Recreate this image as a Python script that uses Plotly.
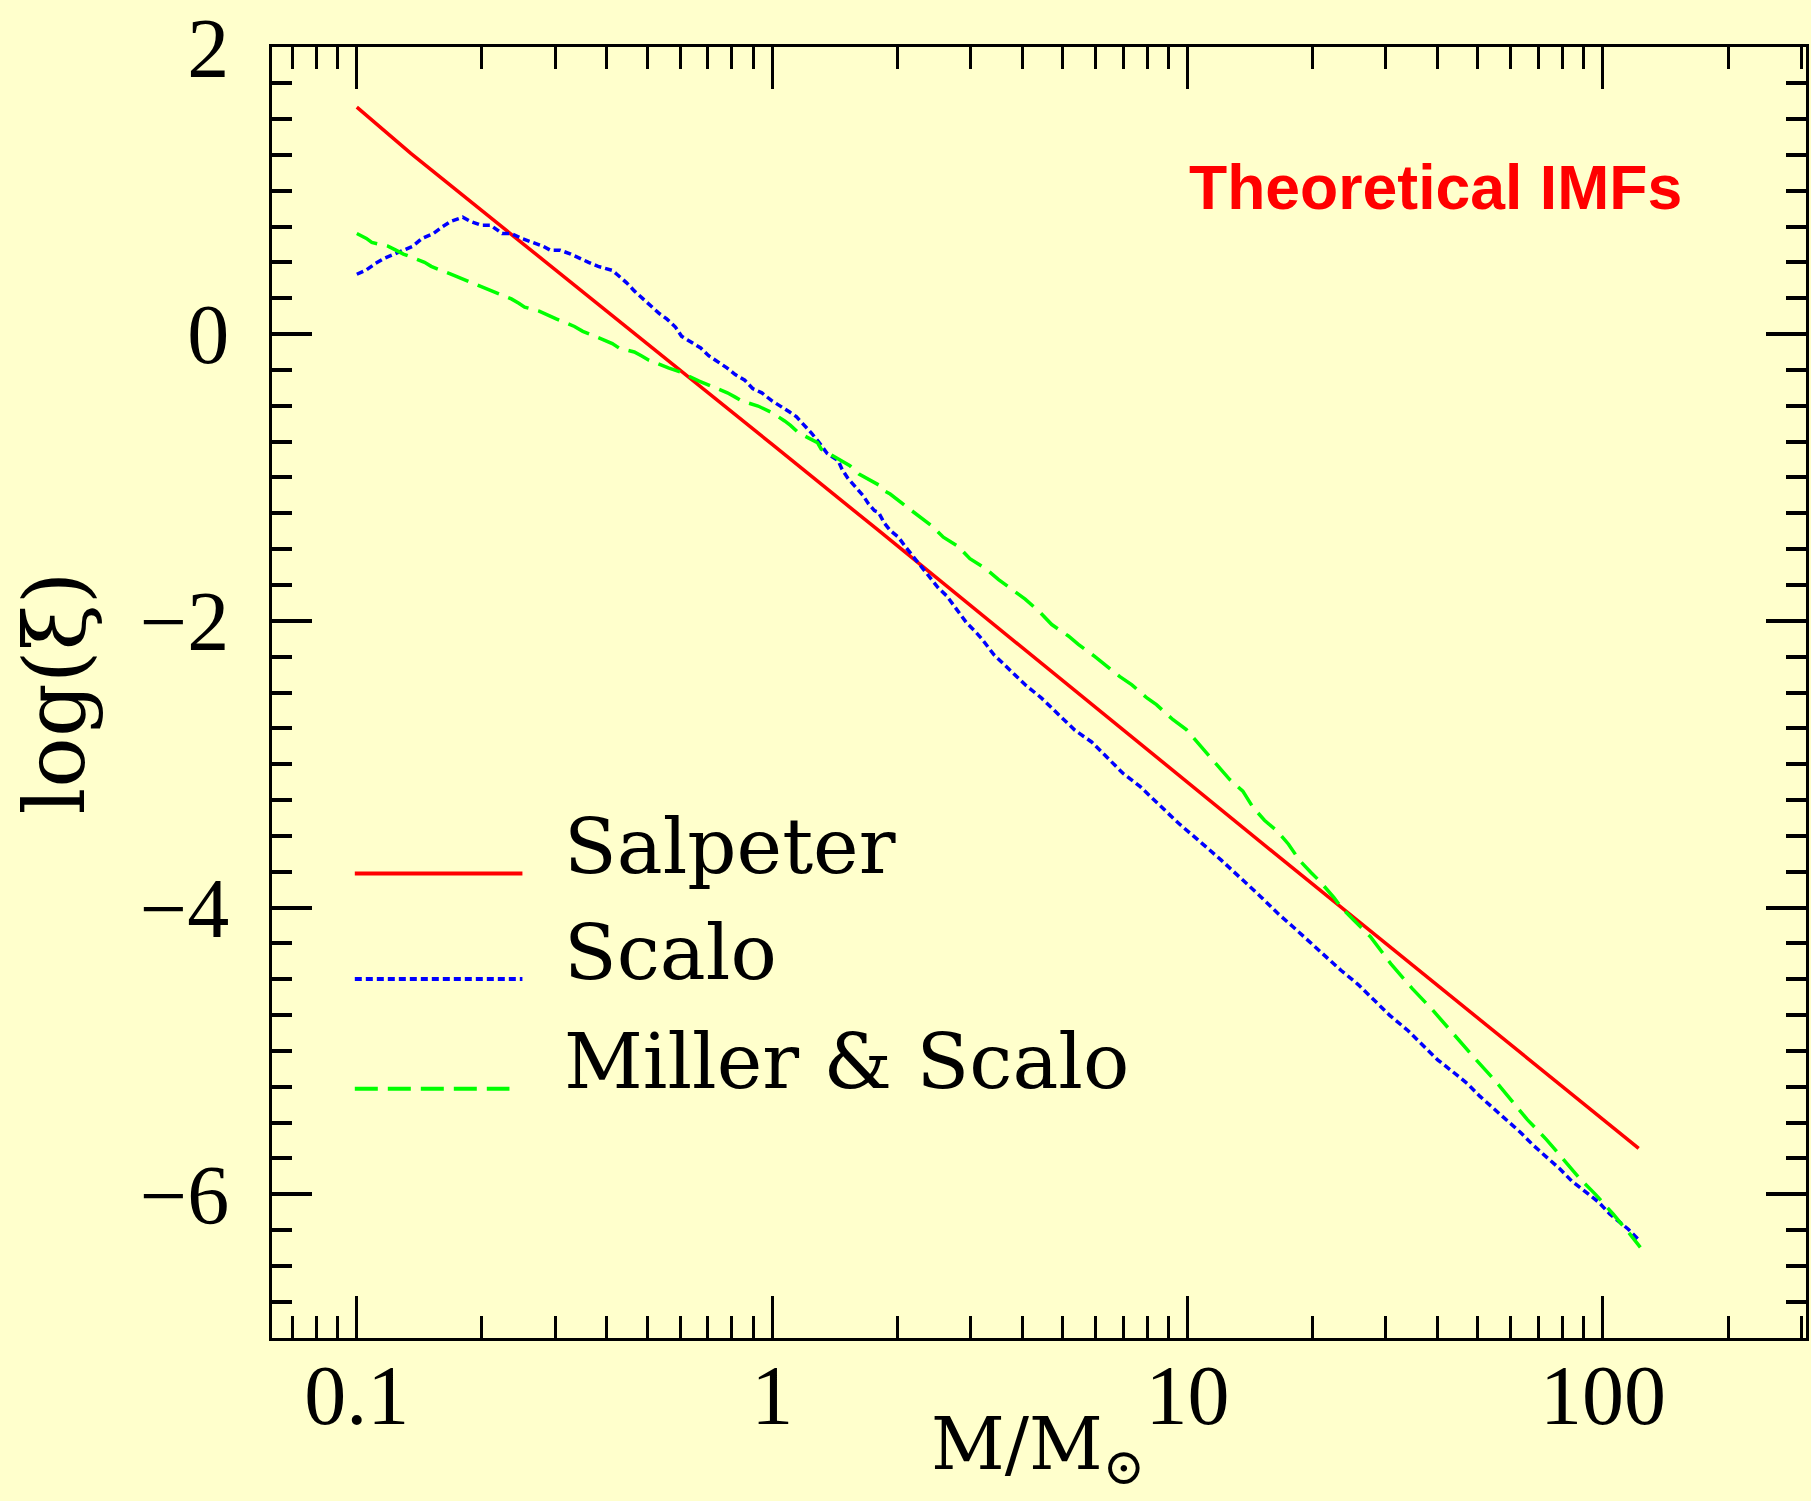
import numpy as np
import plotly.graph_objects as go

# ---------------- data (log10 of M/Msun, log xi) ----------------
salpeter_logm = [-1.0, -0.87, 0.0, 0.256, 1.209, 2.086]
salpeter_logxi = [1.583, 1.26, -0.77, -1.37, -3.62, -5.68]

scalo_logm = [-1.000, -0.977, -0.955, -0.934, -0.906, -0.865, -0.843, -0.816, -0.794, -0.773,
              -0.745, -0.727, -0.701, -0.678, -0.650, -0.628, -0.603, -0.575, -0.552, -0.534,
              -0.511, -0.485, -0.465, -0.442, -0.419, -0.385, -0.374, -0.351, -0.332, -0.310,
              -0.291, -0.273, -0.254, -0.233, -0.218, -0.190, -0.172, -0.153, -0.131, -0.109,
              -0.089, -0.066, -0.047, -0.025, -0.002, 0.021, 0.042, 0.058, 0.076, 0.095,
              0.113, 0.132, 0.159, 0.168, 0.182, 0.200, 0.219, 0.232, 0.246, 0.256,
              0.270, 0.284, 0.304, 0.320, 0.351, 0.383, 0.400, 0.420, 0.440, 0.455,
              0.468, 0.487, 0.504, 0.533, 0.549, 0.573, 0.611, 0.647, 0.689, 0.729,
              0.769, 0.809, 0.845, 0.886, 0.926, 0.979, 1.025, 1.081, 1.176, 1.217,
              1.253, 1.292, 1.333, 1.369, 1.410, 1.450, 1.486, 1.531, 1.566, 1.602,
              1.638, 1.674, 1.704, 1.736, 1.773, 1.801, 1.833, 1.865, 1.896, 1.925,
              1.959, 1.989, 2.017, 2.041, 2.061, 2.087]
scalo_logxi = [0.417, 0.447, 0.493, 0.528, 0.562, 0.613, 0.667, 0.701, 0.748, 0.787,
               0.815, 0.787, 0.759, 0.759, 0.701, 0.701, 0.667, 0.639, 0.613, 0.585,
               0.585, 0.558, 0.528, 0.500, 0.472, 0.444, 0.417, 0.359, 0.301, 0.245,
               0.199, 0.146, 0.106, 0.049, -0.016, -0.069, -0.097, -0.151, -0.190, -0.236,
               -0.283, -0.322, -0.380, -0.410, -0.463, -0.502, -0.544, -0.576, -0.630, -0.692,
               -0.757, -0.831, -0.884, -0.942, -1.005, -1.069, -1.127, -1.185, -1.231, -1.243,
               -1.319, -1.370, -1.417, -1.481, -1.595, -1.713, -1.771, -1.826, -1.908, -1.965,
               -2.014, -2.069, -2.123, -2.234, -2.278, -2.342, -2.451, -2.535, -2.651, -2.764,
               -2.845, -2.960, -3.065, -3.157, -3.268, -3.414, -3.528, -3.669, -3.924, -4.040,
               -4.132, -4.236, -4.349, -4.437, -4.535, -4.646, -4.750, -4.859, -4.963, -5.062,
               -5.144, -5.229, -5.317, -5.398, -5.491, -5.567, -5.660, -5.741, -5.822, -5.908,
               -5.988, -6.053, -6.139, -6.197, -6.243, -6.320]

ms_logm = [-1.000, -0.977, -0.964, -0.925, -0.906, -0.888, -0.837, -0.821, -0.775, -0.750,
           -0.700, -0.676, -0.628, -0.610, -0.596, -0.561, -0.543, -0.520, -0.476, -0.456,
           -0.406, -0.385, -0.369, -0.332, -0.314, -0.298, -0.250, -0.222, -0.176, -0.153,
           -0.108, -0.089, -0.073, -0.034, -0.020, 0.000, 0.030, 0.044, 0.063, 0.109,
           0.118, 0.168, 0.187, 0.209, 0.260, 0.265, 0.284, 0.320, 0.347, 0.388,
           0.412, 0.448, 0.476, 0.512, 0.545, 0.577, 0.609, 0.644, 0.673, 0.713,
           0.737, 0.777, 0.801, 0.837, 0.866, 0.903, 0.925, 0.965, 0.997, 1.025,
           1.049, 1.077, 1.101, 1.133, 1.157, 1.185, 1.217, 1.243, 1.269, 1.297,
           1.317, 1.352, 1.373, 1.401, 1.441, 1.489, 1.541, 1.590, 1.642, 1.688,
           1.742, 1.778, 1.818, 1.864, 1.910, 1.946, 1.982, 2.025, 2.065, 2.090]
ms_logxi = [0.701, 0.667, 0.639, 0.613, 0.585, 0.558, 0.500, 0.472, 0.419, 0.389,
            0.331, 0.303, 0.245, 0.215, 0.188, 0.160, 0.134, 0.106, 0.053, 0.019,
            -0.040, -0.067, -0.097, -0.125, -0.153, -0.181, -0.236, -0.264, -0.328, -0.356,
            -0.410, -0.440, -0.467, -0.502, -0.521, -0.549, -0.606, -0.637, -0.688, -0.757,
            -0.803, -0.891, -0.918, -0.977, -1.058, -1.085, -1.116, -1.197, -1.255, -1.347,
            -1.417, -1.481, -1.567, -1.632, -1.713, -1.782, -1.849, -1.938, -2.026, -2.106,
            -2.164, -2.250, -2.308, -2.389, -2.447, -2.540, -2.585, -2.690, -2.759, -2.852,
            -2.928, -3.021, -3.106, -3.188, -3.299, -3.391, -3.470, -3.558, -3.669, -3.755,
            -3.813, -3.928, -4.009, -4.090, -4.206, -4.391, -4.565, -4.715, -4.889, -5.040,
            -5.213, -5.340, -5.479, -5.618, -5.769, -5.896, -6.000, -6.139, -6.278, -6.370]

x_tickvals = [0.1, 1, 10, 100]
x_ticktext = ["0.1", "1", "10", "100"]
x_minor = [0.07, 0.08, 0.09, 0.2, 0.3, 0.4, 0.5, 0.6, 0.7, 0.8, 0.9,
           2, 3, 4, 5, 6, 7, 8, 9, 20, 30, 40, 50, 60, 70, 80, 90, 200, 300]
y_tickvals = [-6, -4, -2, 0, 2]
y_ticktext = ["−6", "−4", "−2", "0", "2"]

series_names = ["Salpeter", "Scalo", "Miller & Scalo"]
series_colors = ["#ff0000", "#0000ff", "#00ff00"]
series_dash = ["solid", "7px,4px", "23px,10px"]

# ---------------- figure ----------------
W, H = 1811, 1501
L, R, T, B = 272, 1809.5, 43, 1338   # plot-area edges in pixels

def px(xp):
    return (xp - L) / (R - L)

def py(yp):
    return (B - yp) / (B - T)

fig = go.Figure()
for lm, lx, name, col, dash in zip([salpeter_logm, scalo_logm, ms_logm],
                                   [salpeter_logxi, scalo_logxi, ms_logxi],
                                   series_names, series_colors, series_dash):
    fig.add_trace(go.Scatter(x=10 ** np.array(lm), y=lx, mode="lines", name=name,
                             line=dict(color=col, width=3.5, dash=dash), showlegend=False))

bg = "#ffffcc"
fig.update_layout(
    width=W, height=H,
    paper_bgcolor=bg, plot_bgcolor=bg,
    margin=dict(l=L, r=W - R, t=T, b=H - B, pad=0),
    showlegend=False,
)

fig.update_xaxes(
    type="log", range=[-1.2042, 2.4888],
    showline=True, linecolor="black", linewidth=3, mirror="allticks",
    ticks="inside", ticklen=42, tickwidth=2.5, tickcolor="black",
    tickmode="array", tickvals=x_tickvals, ticktext=x_ticktext,
    tickfont=dict(family="Liberation Serif", size=84, color="black"),
    ticklabelstandoff=-18,
    showgrid=False, zeroline=False,
    minor=dict(ticks="inside", ticklen=22, tickwidth=2.5, tickcolor="black",
               tickmode="array", tickvals=x_minor, showgrid=False),
)
fig.update_yaxes(
    range=[-7.002, 2.002],
    showline=True, linecolor="black", linewidth=3, mirror="allticks",
    ticks="inside", ticklen=40, tickwidth=3.5, tickcolor="black",
    tickmode="array", tickvals=y_tickvals, ticktext=y_ticktext,
    tickfont=dict(family="Liberation Serif", size=84, color="black"),
    ticklabelstandoff=23, ticklabeloverflow="allow",
    showgrid=False, zeroline=False,
    minor=dict(ticks="inside", ticklen=20, tickwidth=3.5, tickcolor="black",
               tick0=0, dtick=0.25, showgrid=False),
)

ann = []
# title
ann.append(dict(text="<b>Theoretical IMFs</b>", x=px(1189), y=py(183), xref="paper", yref="paper",
                xanchor="left", yanchor="middle", showarrow=False,
                font=dict(family="Liberation Sans", size=62.5, color="#ff0000")))
# axis titles
ann.append(dict(text="M/M<sub>⊙</sub>", x=px(1040), y=py(1449), xref="paper", yref="paper",
                xanchor="center", yanchor="middle", showarrow=False,
                font=dict(family="DejaVu Serif", size=72, color="black")))
ann.append(dict(text="log(ξ)", x=px(55), y=py(691), xref="paper", yref="paper",
                xanchor="center", yanchor="middle", showarrow=False, textangle=-90,
                font=dict(family="DejaVu Serif", size=84, color="black")))

# legend (drawn manually)
legend_y = [872, 978, 1088]
shapes = []
for name, col, dash, ly in zip(series_names, series_colors, series_dash, legend_y):
    x1 = 510 if "23" in dash else 523
    shapes.append(dict(type="line", xref="paper", yref="paper",
                       x0=px(355), x1=px(x1), y0=py(ly), y1=py(ly),
                       line=dict(color=col, width=4, dash=dash)))
    ann.append(dict(text=name, x=px(563), y=py(ly - 27), xref="paper", yref="paper",
                    xanchor="left", yanchor="middle", showarrow=False,
                    font=dict(family="DejaVu Serif", size=77, color="black")))

fig.update_layout(annotations=ann, shapes=shapes)
fig.write_html("out.html")
